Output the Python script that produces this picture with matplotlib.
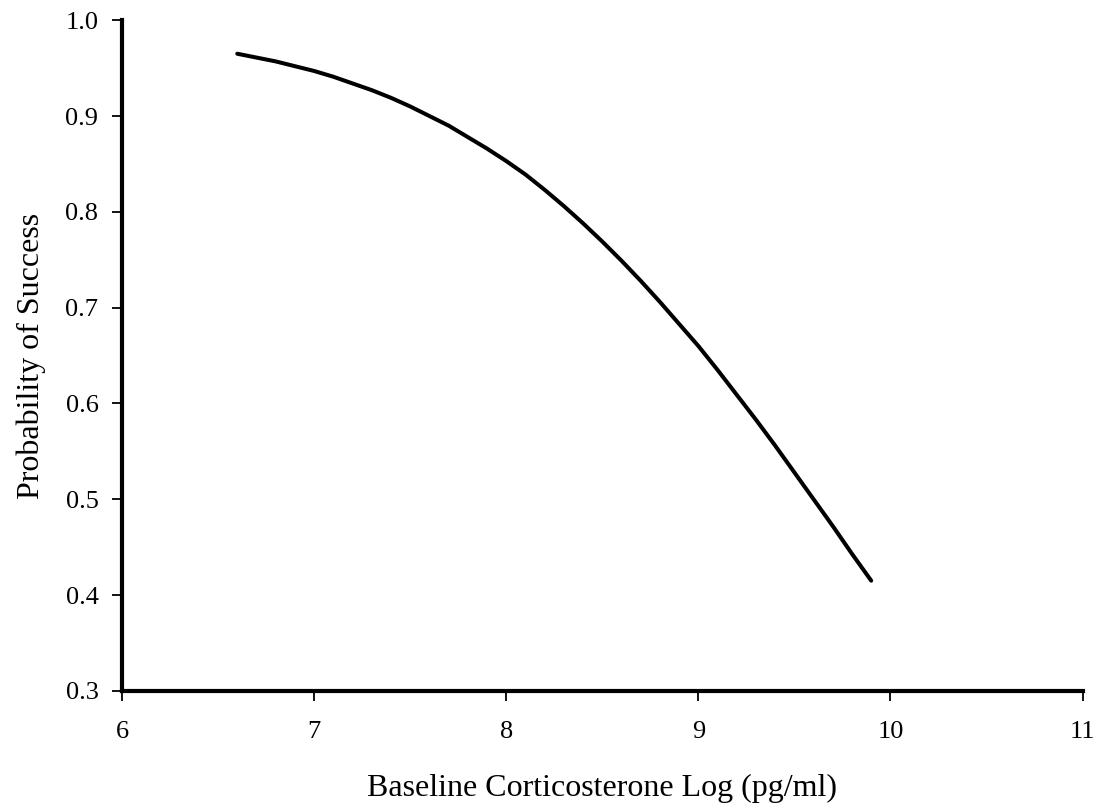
import numpy as np
import matplotlib
matplotlib.use("Agg")
import matplotlib.pyplot as plt

# fitted probability of success vs. log baseline corticosterone
cort_log = [6.6, 6.7, 6.8, 6.9, 7.0, 7.1, 7.2, 7.3, 7.4, 7.5, 7.6, 7.7,
            7.8, 7.9, 8.0, 8.1, 8.2, 8.3, 8.4, 8.5, 8.6, 8.7, 8.8, 8.9,
            9.0, 9.1, 9.2, 9.3, 9.4, 9.5, 9.6, 9.7, 9.8, 9.9]
p_success = [0.965, 0.961, 0.957, 0.952, 0.947, 0.941, 0.934, 0.927,
             0.919, 0.910, 0.900, 0.890, 0.878, 0.866, 0.853, 0.839,
             0.823, 0.806, 0.788, 0.769, 0.749, 0.728, 0.706, 0.683,
             0.660, 0.635, 0.609, 0.583, 0.556, 0.528, 0.500, 0.472,
             0.443, 0.415]

x_ticks = [6, 7, 8, 9, 10, 11]
y_ticks = [0.3, 0.4, 0.5, 0.6, 0.7, 0.8, 0.9, 1.0]

plt.rcParams['font.family'] = ['Liberation Serif', 'DejaVu Serif']

fig = plt.figure(figsize=(10.99, 8.08), dpi=100)
ax = fig.add_axes([0.111, 0.145, 0.874, 0.830])

ax.plot(cort_log, p_success, color='black', lw=2.9,
        solid_capstyle='round', solid_joinstyle='round')

ax.set_xlim(6, 11)
ax.set_ylim(0.3, 1.0)
ax.set_xticks(x_ticks)
ax.set_xticklabels([str(t) for t in x_ticks])
ax.set_yticks(y_ticks)
ax.set_yticklabels(['%.1f' % t for t in y_ticks])

for side in ['top', 'right']:
    ax.spines[side].set_visible(False)
for side in ['left', 'bottom']:
    ax.spines[side].set_linewidth(3)

ax.tick_params(axis='both', direction='out', length=7, width=1.3,
               labelsize=19)
ax.tick_params(axis='x', pad=15)
ax.tick_params(axis='y', pad=10)

ax.set_xlabel('Baseline Corticosterone Log (pg/ml)', fontsize=23,
              labelpad=22)
ax.set_ylabel('Probability of Success', fontsize=23, labelpad=14)

fig.savefig('out.png', dpi=100)
